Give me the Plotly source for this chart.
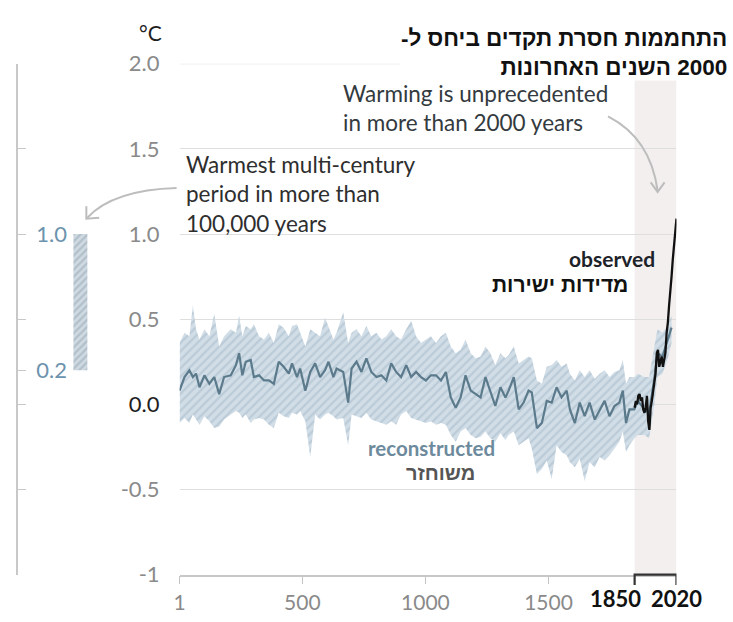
import plotly.graph_objects as go

# ---- data -------------------------------------------------------------
# Reconstructed global surface temperature change (°C), years 1-2000
recon_years = [1, 21, 41, 55, 68, 82, 102, 122, 142, 162, 182, 209, 230, 243, 256, 270,
               290, 303, 324, 344, 364, 384, 404, 424, 445, 458, 478, 491, 512, 532, 552,
               572, 592, 606, 626, 639, 666, 686, 700, 720, 740, 760, 780, 801, 821, 841,
               861, 881, 901, 922, 942, 962, 982, 1002, 1022, 1043, 1063, 1083, 1103, 1123,
               1143, 1163, 1184, 1204, 1224, 1244, 1264, 1284, 1305, 1325, 1338, 1359, 1379,
               1399, 1419, 1432, 1453, 1473, 1493, 1513, 1533, 1553, 1574, 1587, 1607, 1627,
               1647, 1667, 1688, 1708, 1728, 1748, 1768, 1788, 1802, 1815, 1829, 1849, 1863,
               1890, 1909, 1930, 1943, 1963, 1983, 2000]
recon_mean = [0.08, 0.16, 0.20, 0.16, 0.18, 0.10, 0.17, 0.12, 0.16, 0.06, 0.16, 0.17, 0.23,
              0.30, 0.17, 0.25, 0.26, 0.16, 0.17, 0.14, 0.14, 0.12, 0.25, 0.22, 0.18, 0.24,
              0.16, 0.21, 0.08, 0.19, 0.24, 0.16, 0.20, 0.25, 0.16, 0.21, 0.19, 0.01, 0.21,
              0.25, 0.19, 0.27, 0.19, 0.16, 0.17, 0.14, 0.24, 0.19, 0.16, 0.23, 0.16, 0.19,
              0.16, 0.14, 0.17, 0.17, 0.14, 0.19, 0.04, -0.02, 0.04, 0.17, 0.08, 0.06, 0.04,
              0.16, 0.08, -0.01, 0.10, 0.04, 0.08, 0.16, -0.03, 0.01, 0.08, 0.07, -0.14,
              -0.11, 0.02, 0.01, 0.10, 0.04, 0.08, -0.03, -0.11, 0.01, -0.07, 0.01, -0.09,
              -0.03, 0.02, -0.07, -0.01, 0.01, 0.08, -0.11, -0.03, -0.03, 0.02, -0.03, -0.05,
              0.15, 0.30, 0.28, 0.38, 0.45]
recon_upper = [0.36, 0.42, 0.40, 0.58, 0.44, 0.38, 0.44, 0.40, 0.53, 0.34, 0.40, 0.44, 0.42,
               0.52, 0.40, 0.46, 0.44, 0.47, 0.40, 0.38, 0.42, 0.36, 0.47, 0.45, 0.40, 0.46,
               0.47, 0.42, 0.34, 0.44, 0.42, 0.40, 0.51, 0.46, 0.38, 0.42, 0.54, 0.36, 0.42,
               0.44, 0.40, 0.46, 0.40, 0.42, 0.38, 0.40, 0.44, 0.40, 0.38, 0.44, 0.49, 0.40,
               0.36, 0.38, 0.40, 0.36, 0.40, 0.42, 0.34, 0.30, 0.32, 0.38, 0.30, 0.27, 0.28,
               0.34, 0.30, 0.23, 0.30, 0.27, 0.29, 0.34, 0.24, 0.26, 0.28, 0.27, 0.14, 0.12,
               0.22, 0.23, 0.26, 0.22, 0.24, 0.18, 0.14, 0.20, 0.16, 0.20, 0.15, 0.18, 0.20,
               0.16, 0.19, 0.20, 0.26, 0.12, 0.16, 0.16, 0.18, 0.16, 0.16, 0.34, 0.44, 0.42,
               0.46, 0.52]
recon_lower = [-0.11, -0.08, -0.11, -0.06, -0.09, -0.12, -0.07, -0.10, -0.14, -0.13, -0.09,
               -0.06, -0.04, -0.05, -0.08, -0.06, -0.11, -0.09, -0.08, -0.09, -0.12, -0.14,
               -0.05, -0.07, -0.08, -0.05, -0.06, -0.04, -0.10, -0.31, -0.06, -0.09, -0.06,
               -0.05, -0.07, -0.09, -0.08, -0.24, -0.06, -0.07, -0.08, -0.05, -0.09, -0.10,
               -0.11, -0.12, -0.10, -0.12, -0.06, -0.04, -0.08, -0.09, -0.10, -0.11, -0.10,
               -0.12, -0.11, -0.12, -0.18, -0.22, -0.16, -0.14, -0.18, -0.20, -0.19, -0.16,
               -0.20, -0.22, -0.17, -0.21, -0.18, -0.16, -0.24, -0.22, -0.20, -0.26, -0.41,
               -0.38, -0.33, -0.44, -0.24, -0.28, -0.30, -0.34, -0.37, -0.32, -0.45, -0.34,
               -0.37, -0.31, -0.33, -0.30, -0.26, -0.22, -0.16, -0.28, -0.24, -0.20, -0.18,
               -0.18, -0.20, 0.00, 0.16, 0.18, 0.26, 0.36]

# Observed global surface temperature change (°C), 1850-2020
obs_years = [1850, 1855, 1860, 1865, 1870, 1875, 1880, 1885, 1890, 1895, 1900, 1905, 1910,
             1915, 1920, 1925, 1930, 1935, 1940, 1945, 1950, 1955, 1960, 1965, 1970, 1975,
             1980, 1985, 1990, 1995, 2000, 2005, 2010, 2015, 2020]
obs_vals = [-0.02, 0.02, 0.00, 0.05, 0.06, 0.02, 0.04, -0.03, -0.05, -0.02, 0.05, -0.10,
            -0.15, -0.02, 0.02, 0.08, 0.15, 0.18, 0.30, 0.32, 0.22, 0.25, 0.28, 0.22, 0.27,
            0.30, 0.42, 0.48, 0.58, 0.65, 0.75, 0.85, 0.94, 1.00, 1.09]

# Warmest multi-century period in more than 100,000 years
period_low, period_high = 0.2, 1.0

# Axis ticks
y_tickvals = [2.0, 1.5, 1.0, 0.5, 0.0, -0.5, -1]
y_ticktext = ["2.0", "1.5", "1.0", "0.5", "<span style='color:#1e1e1e'>0.0</span>", "-0.5", "-1"]
x_tickvals = [1, 500, 1000, 1500]
x_ticktext = ["1", "500", "1000", "1500"]
left_tickvals = [2.0, 1.5, 1.0, 0.5, 0.2, 0.0, -0.5, -1]
left_ticktext = ["", "", "1.0", "", "0.2", "", "", ""]

# ---- layout helpers (pixel -> paper) ----------------------------------
W, H = 733, 622
def px(x):
    return x / W
def py(y):
    return 1 - y / H

EN_FONT = "Lato, 'Open Sans', sans-serif"
HE_FONT = "'Liberation Sans', Arial, 'DejaVu Sans', sans-serif"
RLM = "\u200f"

fig = go.Figure()

# uncertainty band of the reconstruction (hatched)
band_x = recon_years + recon_years[::-1]
band_y = recon_upper + recon_lower[::-1]
fig.add_trace(go.Scatter(
    x=band_x, y=band_y, mode="lines", fill="toself",
    line=dict(width=0, color="rgba(0,0,0,0)"),
    fillcolor="#d2dde6",
    fillpattern=dict(shape="/", bgcolor="#d2dee7", fgcolor="#a3b8c8", size=6, solidity=0.38),
    hoverinfo="skip", showlegend=False))

# reconstructed mean
fig.add_trace(go.Scatter(
    x=recon_years, y=recon_mean, mode="lines",
    line=dict(color="#5b7a8c", width=2.2), hoverinfo="skip", showlegend=False))

# observed
fig.add_trace(go.Scatter(
    x=obs_years, y=obs_vals, mode="lines",
    line=dict(color="#111111", width=2.3), hoverinfo="skip", showlegend=False))

# warmest multi-century period bar on the side axis
fig.add_trace(go.Bar(
    x=[0.716], y=[period_high - period_low], base=[period_low], width=[0.16],
    marker=dict(color="#cfd9e1", line=dict(width=0),
                pattern=dict(shape="/", bgcolor="#cfd9e1", fgcolor="#93a6b4", size=5, solidity=0.45)),
    xaxis="x2", yaxis="y2", hoverinfo="skip", showlegend=False))

fig.update_layout(
    width=W, height=H,
    margin=dict(l=0, r=0, t=0, b=0),
    paper_bgcolor="white", plot_bgcolor="white",
    showlegend=False,
    xaxis=dict(
        domain=[px(175), px(676)], range=[1, 2020],
        tickvals=x_tickvals, ticktext=x_ticktext,
        ticks="outside", ticklen=8, tickcolor="#c4c4c4",
        showline=True, linecolor="#c8c8c8", linewidth=1.5,
        showgrid=False, zeroline=False,
        tickfont=dict(family=EN_FONT, size=21, color="#8a8a8a"),
    ),
    yaxis=dict(
        domain=[py(586), py(52)], range=[-1, 2],
        tickvals=y_tickvals, ticktext=y_ticktext,
        ticks="", showline=False,
        showgrid=True, gridcolor="#dedede", gridwidth=1.2,
        zeroline=False, ticklabelstandoff=19,
        tickfont=dict(family=EN_FONT, size=22, color="#8a8a8a"),
    ),
    xaxis2=dict(domain=[px(12), px(100)], range=[0, 1], visible=False, anchor="y2"),
    yaxis2=dict(
        domain=[py(586), py(52)], range=[-1, 2], anchor="x2",
        tickvals=left_tickvals, ticktext=left_ticktext,
        ticks="inside", ticklen=8, tickcolor="#c8c8c8",
        showline=True, linecolor="#c8c8c8", linewidth=1.5,
        ticklabelposition="inside", ticklabelstandoff=12,
        showgrid=False, zeroline=False,
        tickfont=dict(family=EN_FONT, size=22, color="#6c93ad"),
    ),
)

# 1850-2020 observation period shading and bracket
fig.add_shape(type="rect", xref="x", yref="y", x0=1850, x1=2020, y0=-1, y1=2,
              fillcolor="#f2efee", line=dict(width=0), layer="below")
fig.add_shape(type="line", xref="x", yref="y", x0=1, x1=2020, y0=2, y1=2,
              line=dict(color="#dedede", width=1.2), layer="below")
fig.add_shape(type="path", xref="x", yref="paper",
              path=f"M 1850,{py(597)} L 1850,{py(586)} L 2020,{py(586)} L 2020,{py(597)}",
              line=dict(color="#333333", width=2.2))

# curved pointer arrows
ARROW = dict(color="#bdbdbd", width=2)
fig.add_shape(type="path", xref="paper", yref="paper",
              path=f"M {px(172)},{py(182)} Q {px(108)},{py(184)} {px(82)},{py(213)}", line=ARROW)
fig.add_shape(type="path", xref="paper", yref="paper",
              path=f"M {px(81)},{py(201)} L {px(81)},{py(214)} L {px(94)},{py(213)}", line=ARROW)
fig.add_shape(type="path", xref="paper", yref="paper",
              path=f"M {px(607)},{py(107)} Q {px(650)},{py(130)} {px(657)},{py(185)}", line=ARROW)
fig.add_shape(type="path", xref="paper", yref="paper",
              path=f"M {px(650)},{py(176)} L {px(657)},{py(186)} L {px(664)},{py(176)}", line=ARROW)

def text(x, y, s, size, color, anchor="left", family=EN_FONT, bg=None):
    fig.add_annotation(x=px(x), y=py(y), xref="paper", yref="paper", text=s,
                       showarrow=False, xanchor=anchor, yanchor="middle", align=anchor,
                       font=dict(family=family, size=size, color=color),
                       bgcolor=bg, borderpad=0)

# unit
text(158, 19, "°C", 21, "#1e1e1e", anchor="right")

# notes
text(180, 188, "Warmest multi-century<br>period in more than<br>100,000 years", 22.5, "#2e2e2e")
text(339, 98, "Warming is unprecedented<br>in more than 2000 years", 22.5, "#333a40")

text(655, 256, "<b>observed</b>", 21, "#1d2329", anchor="right")
text(628, 283, "<b>מדידות ישירות</b>", 21, "#111111", anchor="right", family=HE_FONT)
text(494, 454, "<b>reconstructed</b>", 20.5, "#6d8a9d", anchor="right")
text(474, 480, "<b>משוחזר</b>", 20, "#555555", anchor="right", family=HE_FONT)

# Hebrew heading
text(728, 41, "<b>התחממות חסרת תקדים ביחס ל-" + RLM + "<br>" + RLM + "2000 השנים האחרונות</b>",
     22.5, "#111111", anchor="right", family=HE_FONT, bg="white")

# bold labels for the observation period
fig.add_annotation(x=1850, y=py(611), xref="x", yref="paper", text="<b>1850</b>",
                   showarrow=False, xanchor="center", yanchor="middle", xshift=-19,
                   font=dict(family=EN_FONT, size=22, color="#111111"))
fig.add_annotation(x=2020, y=py(611), xref="x", yref="paper", text="<b>2020</b>",
                   showarrow=False, xanchor="center", yanchor="middle",
                   font=dict(family=EN_FONT, size=22, color="#111111"))

fig.write_html("out.html")
